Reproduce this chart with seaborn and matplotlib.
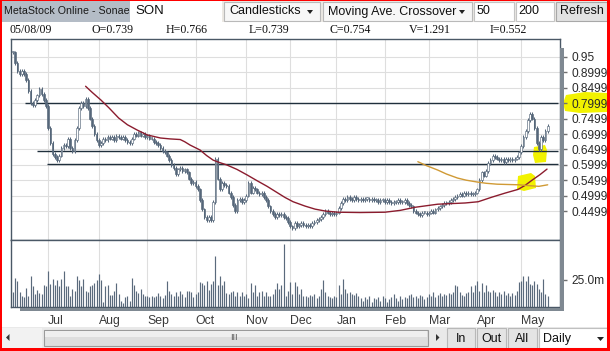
import numpy as np
import pandas as pd
import matplotlib
matplotlib.use("Agg")
import matplotlib.pyplot as plt
import seaborn as sns
from matplotlib.patches import Rectangle, Polygon

# ---------------- data ----------------
closes = [
    0.965, 0.93, 0.905, 0.895, 0.905, 0.895, 0.875, 0.84, 0.80, 0.795,
    0.81, 0.825, 0.845, 0.83, 0.81, 0.79, 0.72, 0.67, 0.635, 0.625,
    0.615, 0.63, 0.655, 0.665, 0.66, 0.685, 0.655, 0.645, 0.68, 0.72,
    0.785, 0.80, 0.79, 0.815, 0.785, 0.75, 0.725, 0.70, 0.68, 0.665,
    0.67, 0.685, 0.68, 0.69, 0.685, 0.69, 0.68, 0.695, 0.69, 0.685,
    0.69, 0.68, 0.675, 0.67, 0.685, 0.70, 0.695, 0.705, 0.695, 0.70,
    0.69, 0.695, 0.685, 0.685, 0.675, 0.67, 0.665, 0.655, 0.645, 0.64,
    0.63, 0.615, 0.60, 0.59, 0.57, 0.585, 0.59, 0.58, 0.585, 0.575,
    0.555, 0.54, 0.545, 0.53, 0.52, 0.485, 0.455, 0.43, 0.42, 0.43,
    0.42, 0.48, 0.62, 0.555, 0.52, 0.54, 0.535, 0.53, 0.51, 0.495,
    0.47, 0.45, 0.485, 0.49, 0.48, 0.485, 0.50, 0.54, 0.51, 0.525,
    0.52, 0.51, 0.505, 0.51, 0.495, 0.485, 0.465, 0.45, 0.44, 0.43,
    0.44, 0.437, 0.44, 0.43, 0.427, 0.415, 0.40, 0.395, 0.41, 0.40,
    0.405, 0.41, 0.405, 0.40, 0.405, 0.40, 0.41, 0.415, 0.42, 0.425,
    0.43, 0.44, 0.45, 0.445, 0.44, 0.445, 0.44, 0.445, 0.46, 0.475,
    0.49, 0.485, 0.495, 0.49, 0.485, 0.495, 0.49, 0.485, 0.49, 0.485,
    0.49, 0.49, 0.485, 0.49, 0.485, 0.485, 0.48, 0.485, 0.485, 0.48,
    0.485, 0.48, 0.475, 0.48, 0.48, 0.485, 0.48, 0.48, 0.485, 0.475,
    0.47, 0.465, 0.45, 0.445, 0.44, 0.437, 0.445, 0.445, 0.44, 0.445,
    0.45, 0.445, 0.455, 0.46, 0.465, 0.47, 0.475, 0.475, 0.48, 0.485,
    0.49, 0.495, 0.50, 0.505, 0.50, 0.51, 0.505, 0.51, 0.505, 0.505,
    0.51, 0.52, 0.55, 0.575, 0.565, 0.58, 0.605, 0.615, 0.63, 0.625,
    0.62, 0.615, 0.62, 0.61, 0.62, 0.615, 0.62, 0.615, 0.62, 0.625,
    0.64, 0.66, 0.69, 0.71, 0.745, 0.765, 0.75, 0.72, 0.67, 0.65,
    0.69, 0.68, 0.71, 0.725,
]

volume = [  # millions
    14, 27, 24, 14, 10, 9, 18, 10, 29, 19,
    12, 16, 13, 12, 20, 19, 33, 21, 26, 20,
    25, 19, 26, 33, 19, 19, 10, 17, 15, 29,
    25, 19, 26, 15, 14, 19, 20, 22, 25, 31,
    25, 5, 19, 20, 11, 11, 15, 22, 12,
    6, 4,
    9, 10, 6, 27, 20, 15, 13, 17, 12, 10,
    10, 9, 10, 9, 10, 13, 10, 8, 11, 24,
    15, 12, 10, 14, 10, 15, 12, 9, 15, 15,
    14, 9, 12, 14, 23, 22, 20, 24, 16, 21,
    24,
    47,
    20, 29, 20, 24, 13, 12, 14, 15, 10, 14,
    10, 14, 10, 12, 8, 22, 14, 20, 10, 14,
    15, 10, 14, 10, 10, 12, 17, 22, 17, 20,
    58,
    10, 15, 23, 12, 23, 19, 12, 17, 10,
    10, 9, 11, 10, 12, 8, 10, 17, 25, 14,
    10, 9, 8, 10, 9, 20, 12, 26, 17, 13,
    14, 12, 11,
    13, 10, 8, 6, 9, 7, 10, 5, 8, 7,
    9, 6, 10, 8, 5, 7, 9, 12, 8, 6,
    10, 7, 9, 8, 11,
    12, 9, 10, 8, 11, 10, 7, 9, 12, 10,
    14, 9, 11, 13, 10, 12,
    11, 13, 12,
    14, 20, 19, 14, 11,
    10, 13, 14, 19, 14, 20, 24, 15,
    22, 14, 20, 15, 14, 16, 14, 10, 14,
    12, 15, 11, 13, 10,
    13, 11, 15, 23, 24, 29, 24, 29, 21, 20,
    24, 21, 17, 14, 26, 12, 10,
]

ma_red_idx = [33, 36, 40, 43.6, 48, 52, 56.4, 61, 67, 71.4, 76, 78, 80.5, 85, 88,
              91, 94, 97, 101.8, 106.4, 111, 115.5, 120, 123.6, 127.3, 132.7, 137.3,
              141.8, 147.7, 157.7, 169, 176, 182.7, 193, 205.5, 211.4, 217.7, 223.6,
              229.5, 232.7, 235.9, 239.5, 242.7]
ma_red_val = [0.855, 0.835, 0.81, 0.785, 0.752, 0.73, 0.713, 0.697, 0.687, 0.684,
              0.682, 0.675, 0.664, 0.648, 0.63, 0.615, 0.607, 0.60, 0.585, 0.567,
              0.548, 0.53, 0.51, 0.494, 0.48, 0.466, 0.456, 0.45, 0.446, 0.445,
              0.446, 0.452, 0.462, 0.472, 0.476, 0.48, 0.495, 0.508, 0.52, 0.533,
              0.55, 0.568, 0.586]
ma_org_idx = [184, 188, 193, 197, 202, 206, 211, 215, 220, 225, 230, 235, 239, 243]
ma_org_val = [0.61, 0.597, 0.583, 0.57, 0.557, 0.55, 0.544, 0.54, 0.537, 0.536,
              0.535, 0.532, 0.53, 0.535]

level_vals = [0.80, 0.645, 0.602]
level_start = [5.5, 10.9, 15.5]

month_labels = ["Jul", "Aug", "Sep", "Oct", "Nov", "Dec", "Jan", "Feb", "Mar", "Apr", "May"]
month_pos = [16, 39, 61, 83, 106, 126, 147, 169, 189, 211, 231]

price_ticks = [0.4499, 0.4999, 0.5499, 0.5999, 0.6499, 0.6999, 0.7499, 0.7999, 0.8499, 0.8999, 0.95]
price_tick_labels = ["0.4499", "0.4999", "0.5499", "0.5999", "0.6499", "0.6999",
                     "0.7499", "0.7999", "0.8499", "0.8999", "0.95"]
vol_ticks = [25]
vol_tick_labels = ["25.0m"]

# ---------------- style ----------------
sns.set_theme(style="white")
plt.rcParams["font.family"] = ["Liberation Sans", "DejaVu Sans"]

W, H = 610, 351
fig = plt.figure(figsize=(W / 100, H / 100), dpi=100)
fig.patch.set_facecolor("white")

def fx(x):
    return x / W

def fy(y):
    return 1 - y / H

def frect(x0, y0, x1, y1, **kw):
    r = Rectangle((fx(x0), fy(y1)), (x1 - x0) / W, (y1 - y0) / H,
                  transform=fig.transFigure, **kw)
    fig.patches.append(r)
    return r

CANDLE = "#56677a"
FRAME = "#4a5866"
GRID = "#dedede"

ax_p = fig.add_axes([fx(11), fy(240), 549 / W, 201 / H])
ax_v = fig.add_axes([fx(11), fy(307), 549 / W, 67 / H])

idx = np.arange(len(closes))
c = np.array(closes)
o = np.concatenate([[closes[0]], c[:-1]])
hi = np.maximum(o, c) + 0.006
lo = np.minimum(o, c) - 0.006
df = pd.DataFrame({"idx": idx, "open": o, "close": c, "high": hi, "low": lo})

# price panel
ax_p.set_xlim(-0.9, 248.6)
ax_p.set_ylim(0.3558, 1.0084)
ax_p.set_xticks(month_pos)
ax_p.tick_params(axis="x", length=0, labelbottom=False)
ax_p.yaxis.tick_right()
ax_p.set_yticks(price_ticks)
ax_p.set_yticklabels(price_tick_labels)
ax_p.tick_params(axis="y", length=5, width=1, color="#707070", pad=3,
                 labelsize=8.6, labelcolor="#2a2a2a")
ax_p.grid(True, color=GRID, lw=0.8)
ax_p.set_axisbelow(True)
for s in ax_p.spines.values():
    s.set_color(FRAME)
    s.set_linewidth(1)

def fpoly(ax, pts, **kw):
    p = Polygon([(fx(x), fy(y)) for x, y in pts], closed=True,
                transform=fig.transFigure, **kw)
    ax.add_patch(p)

YEL = "#f2f200"
fpoly(ax_p, [(534, 147), (545, 145), (547, 150), (546, 162), (535, 163), (533, 155)],
      facecolor=YEL, edgecolor="none", zorder=0.6)
fpoly(ax_p, [(518, 176), (531, 173), (535, 176), (536, 188), (524, 191), (517, 189)],
      facecolor=YEL, edgecolor="none", zorder=0.6)

for lv, st in zip(level_vals, level_start):
    ax_p.hlines(lv, st, 247.7, color="#1f2f3c", lw=1.0, zorder=1.5)

ax_p.vlines(df["idx"], df["low"], df["high"], color=CANDLE, lw=0.75, zorder=2)
up = df["close"] >= df["open"]
body = (df["close"] - df["open"]).abs().clip(lower=0.004)
ax_p.bar(df["idx"], body, bottom=np.minimum(df["open"], df["close"]), width=0.8,
         color=np.where(up, "white", CANDLE), edgecolor=CANDLE, lw=0.45, zorder=2.2)

sns.lineplot(x=ma_red_idx, y=ma_red_val, ax=ax_p, color="#8b1c2e", lw=1.0, zorder=3)
sns.lineplot(x=ma_org_idx, y=ma_org_val, ax=ax_p, color="#d09a35", lw=1.0, zorder=3)
ax_p.set_xlabel("")
ax_p.set_ylabel("")

# volume panel
ax_v.set_xlim(-0.9, 248.6)
ax_v.set_ylim(0, 62)
ax_v.vlines(np.arange(len(volume)), 0, volume, color="#5a6a7c", lw=0.85, zorder=2)
ax_v.set_xticks(month_pos)
ax_v.set_xticklabels(month_labels, ha="left")
ax_v.tick_params(axis="x", length=4, width=1, color="#707070", pad=1.5,
                 labelsize=8.8, labelcolor="#3a3a3a")
ax_v.yaxis.tick_right()
ax_v.set_yticks(vol_ticks)
ax_v.set_yticklabels(vol_tick_labels)
ax_v.tick_params(axis="y", length=5, width=1, color="#707070", pad=3,
                 labelsize=8.6, labelcolor="#2a2a2a")
ax_v.grid(True, axis="x", color=GRID, lw=0.8)
ax_v.set_axisbelow(True)
for s in ax_v.spines.values():
    s.set_color(FRAME)
    s.set_linewidth(1)

hp = Polygon([(fx(x), fy(y)) for x, y in
              [(566, 95), (585, 92), (607, 93), (607, 112), (580, 113), (565, 111), (563, 103)]],
             closed=True, transform=fig.transFigure, facecolor=YEL, edgecolor="none", zorder=-1)
fig.patches.append(hp)

frect(560, 48, 563.5, 310.5, facecolor="#7f8992", edgecolor="none", zorder=1)
frect(20, 307.5, 563.5, 310.5, facecolor="#7f8992", edgecolor="none", zorder=1)

# ---------------- toolbar ----------------
frect(0, 0, 610, 22, facecolor="#ece9e4", edgecolor="none", zorder=-2)
frect(2, 1, 130, 22, facecolor="#b4bcc6", edgecolor="none", zorder=-1)
fig.text(fx(3.5), fy(11.5), "MetaStock Online - Sonae", fontsize=7.7, color="#1a1a1a",
         va="center", ha="left")
frect(130, 1, 222, 22, facecolor="white", edgecolor="none", zorder=-1)
fig.text(fx(135), fy(11), "SON", fontsize=9.5, color="#111111", va="center", ha="left")

boxes = [(224, 320, "Candlesticks"), (323, 472, "Moving Ave. Crossover")]
for x0, x1, t in boxes:
    frect(x0, 2, x1, 21, facecolor="#f7f7f7", edgecolor="#b9b9b9", lw=0.8, zorder=-1)
    fig.text(fx(x0 + 5), fy(11.5), t, fontsize=9, color="#111111", va="center", ha="left")
    fig.patches.append(Polygon([(fx(x1 - 13), fy(10)), (fx(x1 - 7), fy(10)), (fx(x1 - 10), fy(14))],
                               closed=True, transform=fig.transFigure, facecolor="#222222",
                               edgecolor="none", zorder=-1))
frect(474, 2, 514, 21, facecolor="white", edgecolor="#c4c4c4", lw=0.8, zorder=-1)
fig.text(fx(477), fy(11), "50", fontsize=9, color="#111111", va="center", ha="left")
frect(516, 2, 554, 21, facecolor="white", edgecolor="#c4c4c4", lw=0.8, zorder=-1)
fig.text(fx(518), fy(11), "200", fontsize=9, color="#111111", va="center", ha="left")
frect(556, 2, 607, 21, facecolor="#e2e2e2", edgecolor="#a8a8a8", lw=0.8, zorder=-1)
fig.text(fx(581.5), fy(11.5), "Refresh", fontsize=9, color="#111111", va="center", ha="center")

info = [(10, "05/08/09"), (91, "O=0.739"), (166, "H=0.766"), (249, "L=0.739"),
        (329, "C=0.754"), (409, "V=1.291"), (490, "I=0.552")]
for x, t in info:
    fig.text(fx(x), fy(30), t, fontsize=8.6, color="#111111", va="center", ha="left",
             family=["Liberation Serif", "DejaVu Serif"])

# ---------------- bottom bar ----------------
frect(0, 327, 610, 351, facecolor="#e9e9e9", edgecolor="none", zorder=-2)
frect(2, 328, 42, 348, facecolor="#f2f2f2", edgecolor="none", zorder=-1)
fig.patches.append(Polygon([(fx(9.5), fy(334)), (fx(9.5), fy(341)), (fx(6), fy(337.5))], closed=True,
                           transform=fig.transFigure, facecolor="#333333", edgecolor="none"))
frect(44, 330, 428, 346, facecolor="#dedede", edgecolor="#9a9a9a", lw=0.8, zorder=-1)
frect(45, 331, 427, 337, facecolor="#efefef", edgecolor="none", zorder=-1)
fig.text(fx(234), fy(338), "III", fontsize=6.5, color="#555555", va="center", ha="center")
fig.patches.append(Polygon([(fx(436), fy(334)), (fx(436), fy(341)), (fx(439.5), fy(337.5))], closed=True,
                           transform=fig.transFigure, facecolor="#333333", edgecolor="none"))
for x0, x1, t in [(447, 475, "In"), (477, 506, "Out"), (508, 537, "All")]:
    frect(x0, 328, x1, 348, facecolor="#e4e4e4", edgecolor="#b8b8b8", lw=0.8, zorder=-1)
    fig.text(fx((x0 + x1) / 2), fy(338.5), t, fontsize=9, color="#111111", va="center", ha="center")
frect(539, 328, 607, 348, facecolor="white", edgecolor="#c0c0c0", lw=0.8, zorder=-1)
fig.text(fx(543), fy(339), "Daily", fontsize=9, color="#111111", va="center", ha="left")
fig.patches.append(Polygon([(fx(597), fy(337)), (fx(604), fy(337)), (fx(600.5), fy(341))], closed=True,
                           transform=fig.transFigure, facecolor="#222222", edgecolor="none"))

RED = "#ff0000"
frect(0, 0, 2, 351, facecolor=RED, edgecolor="none", zorder=5)
frect(607, 0, 610, 351, facecolor=RED, edgecolor="none", zorder=5)
frect(0, 348, 610, 351, facecolor=RED, edgecolor="none", zorder=5)
frect(0, 0, 610, 1, facecolor=RED, edgecolor="none", zorder=5)

fig.savefig("out.png", dpi=100)
